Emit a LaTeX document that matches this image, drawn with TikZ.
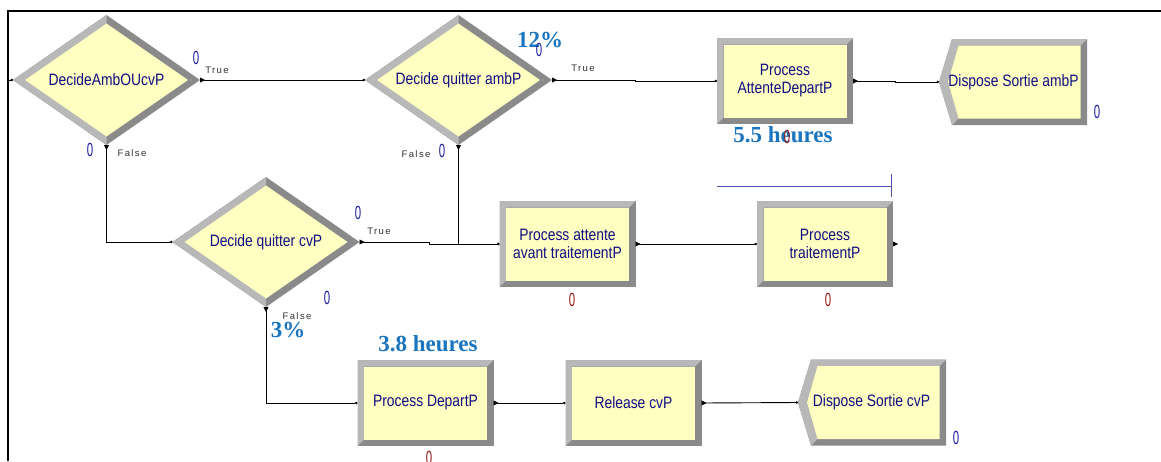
\documentclass[tikz,border=0pt]{standalone}
\usepackage{fontspec}
\setmainfont{Liberation Sans}
\newfontfamily\modfont[FakeStretch=0.84]{Liberation Sans}
\newfontfamily\cntfont[FakeStretch=0.6]{Liberation Sans}
\newfontfamily\tffont[LetterSpace=15]{Liberation Sans}
\newfontfamily\bigfont{Liberation Serif}
\usetikzlibrary{arrows.meta,shapes.geometric}
\definecolor{yel}{RGB}{255,255,194}
\definecolor{bevlight}{RGB}{184,184,184}
\definecolor{bevdark}{RGB}{138,138,138}
\definecolor{navytext}{RGB}{15,15,130}
\definecolor{cntblue}{RGB}{30,30,160}
\definecolor{cntred}{RGB}{140,20,20}
\definecolor{statblue}{RGB}{27,117,190}
\definecolor{tfgray}{RGB}{50,50,50}
\definecolor{barblue}{RGB}{80,80,170}

\newcommand\processbox[4]{%
  \fill[bevdark] (#2-68,#3-43) rectangle (#2+68,#3+43);
  \fill[bevlight] (#2-68,#3-43) -- (#2+68,#3-43) -- (#2+61.5,#3-36.5) -- (#2-61.5,#3-36.5) -- (#2-61.5,#3+36.5) -- (#2-68,#3+43) -- cycle;
  \fill[yel] (#2-61.5,#3-36.5) rectangle (#2+61.5,#3+36.5);
  \node[procnode] (#1) at (#2,#3) {#4};
}
\newcommand\decidebox[4]{%
  \fill[bevdark] (#2,#3-65) -- (#2+93.5,#3) -- (#2,#3+65) -- (#2-93.5,#3) -- cycle;
  \fill[bevlight] (#2,#3-65) -- (#2-93.5,#3) -- (#2,#3+65) -- (#2,#3+56.5) -- (#2-81.5,#3) -- (#2,#3-56.5) -- cycle;
  \fill[yel] (#2,#3-56.5) -- (#2+81.5,#3) -- (#2,#3+56.5) -- (#2-81.5,#3) -- cycle;
  \node[decnode] (#1) at (#2,#3) {#4};
}
\newcommand\disposebox[5]{%
  \fill[bevdark] (#2-80.5,#3) -- (#2-67.5,#3-43) -- (#2+67.5,#3-43) -- (#2+67.5,#3+43) -- (#2-67.5,#3+43) -- cycle;
  \fill[bevlight] (#2-80.5,#3) -- (#2-67.5,#3-43) -- (#2+67.5,#3-43) -- (#2+61,#3-36.5) -- (#2-61,#3-36.5) -- (#2-71.5,#3) -- (#2-61,#3+36.5) -- (#2-67.5,#3+43) -- cycle;
  \fill[yel] (#2-71.5,#3) -- (#2-61,#3-36.5) -- (#2+61,#3-36.5) -- (#2+61,#3+36.5) -- (#2-61,#3+36.5) -- cycle;
  \node[dispnode] (#1) at (#2+#5,#3) {#4};
  \coordinate (#1-tip) at (#2-80.5,#3);
}

\begin{document}
\begin{tikzpicture}[x=1pt,y=-1pt,
  modtext/.style={text=navytext, font=\modfont\fontsize{16.5}{18}\selectfont, inner sep=0pt, outer sep=0pt, align=center},
  procnode/.style={modtext, rectangle, minimum width=136pt, minimum height=86pt},
  decnode/.style={modtext, diamond, shape aspect=1.44, minimum width=187pt, minimum height=130pt},
  dispnode/.style={modtext, rectangle, minimum width=120pt, minimum height=86pt},
  cnt/.style={font=\cntfont\fontsize{19}{19}\selectfont, inner sep=0pt},
  cb/.style={cnt, text=cntblue},
  cr/.style={cnt, text=cntred},
  tf/.style={font=\tffont\fontsize{9.5}{10}\selectfont, text=tfgray, inner sep=0pt},
  stat/.style={font=\bigfont\bfseries\fontsize{23}{23}\selectfont, text=statblue, inner sep=0pt},
  conn/.style={line width=0.9pt, {Triangle[reversed,length=5pt,width=5pt]}-{Circle[length=2.5pt]}},
]
\useasboundingbox (0,0) rectangle (1161,461);
\fill[white] (0,0) rectangle (1161,461);
% frame
\draw[line width=2pt] (8,461) -- (8,11) -- (1161,11);

% modules
\decidebox{d1}{106.5}{80}{DecideAmbOUcvP}
\decidebox{d2}{458.5}{80}{Decide quitter ambP}
\decidebox{d3}{266}{242}{Decide quitter cvP}
\processbox{pa}{785}{81}{Process\\AttenteDepartP}
\disposebox{dispA}{1019.5}{82}{Dispose Sortie ambP}{-6}
\processbox{pat}{567.5}{244}{Process attente\\avant traitementP}
\processbox{pt}{825}{244}{Process\\traitementP}
\processbox{pd}{425.5}{403}{Process DepartP}
\processbox{rel}{633.5}{403}{Release cvP}
\disposebox{dispC}{878.5}{402.5}{Dispose Sortie cvP}{-7}

% blue bar
\draw[barblue, line width=1pt] (717,186) -- (891,186);
\draw[barblue, line width=1pt] (891,174) -- (891,197);

% connectors
\coordinate (entry) at (8,80);
\draw[line width=0.9pt, -{Circle[length=2.5pt]}] (entry) -- (d1.west);
\draw[conn] (d1.east) -- (d2.west);
\draw[conn] (d1.south) |- (d3.west);
\draw[conn] (d2.east) -- ++(83,0) |- (pa.west);
\draw[conn] (d2.south) |- (pat.west);
\draw[conn] (d3.east) -- ++(70,0) |- (pat.west);
\draw[conn] (pa.east) -- ++(42,0) |- (dispA-tip);
\draw[conn] (pat.east) -- (pt.west);
\fill (pt.east) -- ++(0,-2.5) -- ++(5,2.5) -- ++(-5,2.5) -- cycle;
\draw[conn] (d3.south) |- (pd.west);
\draw[conn] (pd.east) -- (rel.west);
\draw[conn] (rel.east) -- (dispC-tip);

% statistics labels
\node[stat] (s12) at (540,40) {12\%};
\node[stat] (s55) at (783,135) {5.5 heures};
\node[stat] (s3) at (288,330) {3\%};
\node[stat] (s38) at (428,344) {3.8 heures};

% true / false
\node[tf] (t1) at (217,70) {True};
\node[tf] (f1) at (132,153) {False};
\node[tf] (t2) at (583,68) {True};
\node[tf] (f2) at (416,154) {False};
\node[tf] (t3) at (379,231) {True};
\node[tf] (f3) at (297,316) {False};

% counters
\node[cb] (c1) at (196,58) {0};
\node[cb] (c2) at (90,150) {0};
\node[cb] (c3) at (539,50) {0};
\node[cb] (c4) at (442,151) {0};
\node[cr] (c5) at (787,137) {0};
\node[cb] (c6) at (1097,112) {0};
\node[cb] (c7) at (358,213) {0};
\node[cb] (c8) at (327,298) {0};
\node[cr] (c9) at (572,300) {0};
\node[cr] (c10) at (828,300) {0};
\node[cr] (c11) at (429,458) {0};
\node[cb] (c12) at (956,438) {0};
\end{tikzpicture}
\end{document}
